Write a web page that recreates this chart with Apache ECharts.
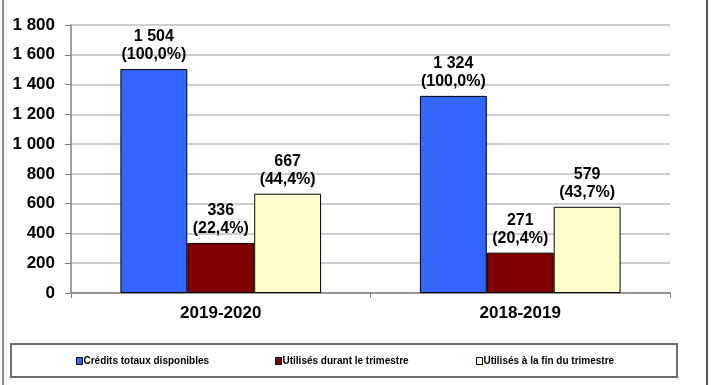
<!DOCTYPE html>
<html><head><meta charset="utf-8">
<script src="https://cdn.jsdelivr.net/npm/echarts@6/dist/echarts.min.js"></script>
<style>html,body{margin:0;padding:0;background:#fff}#c{width:711px;height:385px}</style>
</head><body><div id="c"></div>
<script>
const categories = ['2019-2020', '2018-2019'];
const seriesNames = ['Crédits totaux disponibles', 'Utilisés durant le trimestre', 'Utilisés à la fin du trimestre'];
const creditsTotaux = [1504, 1324];
const utilisesDurant = [336, 271];
const utilisesFin = [667, 579];
const pctTotaux = ['100,0%', '100,0%'];
const pctDurant = ['22,4%', '20,4%'];
const pctFin = ['44,4%', '43,7%'];
const colors = ['#3366ff', '#800000', '#ffffcc'];

function fmt(v){ return String(v).replace(/\B(?=(\d{3})+(?!\d))/g, ' '); }
const FONT = '"Liberation Sans", Arial, sans-serif';
const values = [creditsTotaux, utilisesDurant, utilisesFin];
const pcts = [pctTotaux, pctDurant, pctFin];

const chart = echarts.init(document.getElementById('c'), null, {renderer:'canvas'});
const legendX = [71, 270, 471];
chart.setOption({
  animation:false,
  backgroundColor:'#fff',
  grid:{left:71, right:41, top:25, bottom:92, containLabel:false},
  legend: seriesNames.map((n,i)=>({
    data:[n], left:legendX[i], top:351, itemWidth:6, itemHeight:7, icon:'rect',
    itemStyle:{borderColor:'#000', borderWidth:1},
    textStyle:{fontFamily:FONT, fontWeight:'bold', fontSize:10, color:'#000', padding:[0,0,0,-4]}
  })),
  xAxis:{type:'category', data:categories,
    axisLine:{lineStyle:{color:'#808080', width:1.5}},
    axisTick:{show:true, length:5, lineStyle:{color:'#808080'}},
    axisLabel:{fontFamily:FONT, fontWeight:'bold', fontSize:17, color:'#000', margin:12}},
  yAxis:{type:'value', min:0, max:1800, interval:200,
    axisLine:{show:true, lineStyle:{color:'#808080', width:1.5}},
    axisTick:{show:true, length:6, lineStyle:{color:'#808080'}},
    splitLine:{lineStyle:{color:'#bdbdbd', width:1.5}},
    axisLabel:{fontFamily:FONT, fontWeight:'bold', fontSize:17, color:'#000', margin:16, formatter:v=>fmt(v)}},
  series: seriesNames.map((n,i)=>({
    name:n, type:'bar', data:values[i], barGap:'0%', barCategoryGap:'33%',
    itemStyle:{color:colors[i], borderColor:'#000', borderWidth:1},
    label:{show:true, position:'top', distance:5, fontFamily:FONT, fontWeight:'bold', fontSize:16, color:'#000', lineHeight:18,
      formatter:p=>fmt(p.value)+'\n('+pcts[i][p.dataIndex]+')'}
  })),
  graphic:[
    {type:'rect', shape:{x:11, y:344, width:666, height:33}, style:{fill:'none', stroke:'#6e6e6e', lineWidth:2}},
    {type:'line', shape:{x1:3, y1:0, x2:3, y2:385}, style:{stroke:'#8a8a8a', lineWidth:2}},
    {type:'line', shape:{x1:707, y1:0, x2:707, y2:385}, style:{stroke:'#555', lineWidth:2}}
  ]
});
</script></body></html>
